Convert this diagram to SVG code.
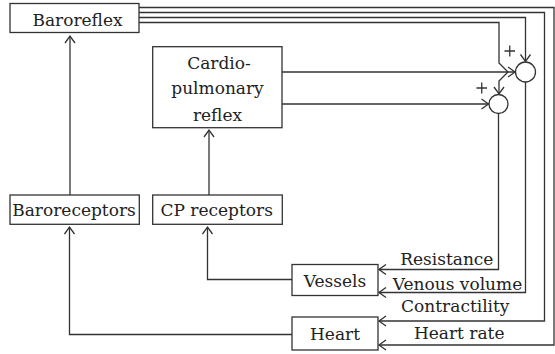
<svg xmlns="http://www.w3.org/2000/svg" width="555" height="354" viewBox="0 0 555 354">
<style>
.box{fill:#fff;stroke:#333;stroke-width:1.3}
.ln{fill:none;stroke:#333;stroke-width:1.3}
text{font-family:'DejaVu Serif',serif;font-size:17px;fill:#222;text-anchor:middle}
</style>
<defs>
<marker id="ah" markerUnits="userSpaceOnUse" markerWidth="12" markerHeight="12" viewBox="-8 -6 10 12" refX="0" refY="0" orient="auto">
<path d="M-7,-5 L0,0 L-7,5" fill="none" stroke="#333" stroke-width="1.3"/>
</marker>
</defs>
<rect width="555" height="354" fill="#fff"/>
<g id="connectors">
<path class="ln" d="M70,195 V36" marker-end="url(#ah)"/>
<path class="ln" d="M209,195 V130" marker-end="url(#ah)"/>
<path class="ln" d="M292,279.5 H207.5 V227" marker-end="url(#ah)"/>
<path class="ln" d="M292,334.5 H69.5 V227" marker-end="url(#ah)"/>
<path class="ln" d="M282,72 H515" marker-end="url(#ah)"/>
<path class="ln" d="M282,104 H488.5" marker-end="url(#ah)"/>
<path class="ln" d="M139,7.5 H554 V345 H379" marker-end="url(#ah)"/>
<path class="ln" d="M139,12.5 H544.5 V321 H379" marker-end="url(#ah)"/>
<path class="ln" d="M139,17.5 H525.5 V61.5" marker-end="url(#ah)"/>
<path class="ln" d="M139,22.5 H499 V63 L508,72 L499,81 V94" marker-end="url(#ah)"/>
<path class="ln" d="M498.5,113.5 V269.5 H379" marker-end="url(#ah)"/>
<path class="ln" d="M525.5,82 V292.5 H379" marker-end="url(#ah)"/>
<circle class="ln" cx="525.5" cy="72" r="10"/>
<circle class="ln" cx="498.5" cy="104" r="9.5"/>
<path class="ln" d="M504.5,51 H515 M509.75,45.5 V56.5"/>
<path class="ln" d="M476.5,88 H487 M481.75,82.5 V93.5"/>
<text x="446.8" y="265">Resistance</text>
<text x="457.5" y="289.5">Venous volume</text>
<text x="455.3" y="312">Contractility</text>
<text x="459.2" y="338.5">Heart rate</text>
</g>
<g id="baroreflex">
<rect class="box" x="10" y="3.5" width="129" height="29"/>
<text x="77.5" y="26">Baroreflex</text>
</g>
<g id="cardiopulmonary">
<rect class="box" x="152.7" y="46.7" width="129.3" height="81"/>
<text x="219" y="69">Cardio-</text>
<text x="217.5" y="93.5">pulmonary</text>
<text x="217.5" y="121">reflex</text>
</g>
<g id="baroreceptors">
<rect class="box" x="10" y="195" width="129.3" height="29.3"/>
<text x="74" y="215.5">Baroreceptors</text>
</g>
<g id="cp-receptors">
<rect class="box" x="152.7" y="195" width="129.6" height="29.3"/>
<text x="216.7" y="215.5">CP receptors</text>
</g>
<g id="vessels">
<rect class="box" x="292" y="264.5" width="86" height="31"/>
<text x="335" y="287">Vessels</text>
</g>
<g id="heart">
<rect class="box" x="292" y="317" width="86" height="33"/>
<text x="335" y="339.5">Heart</text>
</g>
</svg>
